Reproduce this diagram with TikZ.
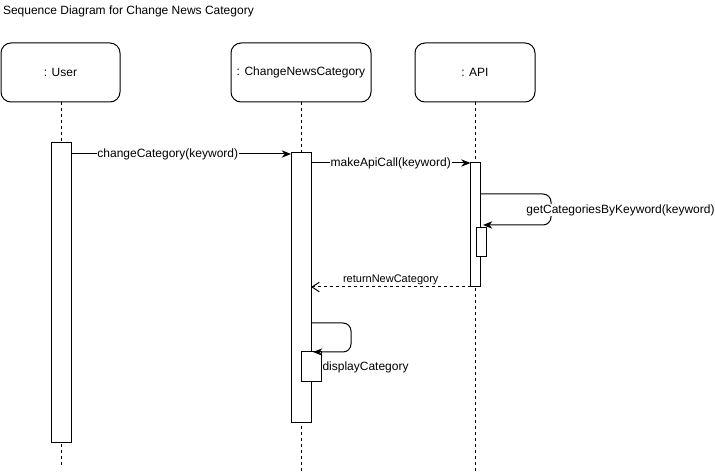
\documentclass[tikz,border=0pt]{standalone}
\usepackage{fontspec}
\setmainfont{Liberation Sans}
\usetikzlibrary{arrows.meta}
\begin{document}
\begin{tikzpicture}[x=0.75pt, y=-0.75pt, line width=0.75pt,
  every node/.style={font=\fontsize{9pt}{11pt}\selectfont, outer sep=0pt},
  dims/.style 2 args={minimum width={#1*0.75pt}, minimum height={#2*0.75pt}, inner sep=0pt},
  party/.style={draw, fill=white, rounded corners=7.5pt},
  actbar/.style={draw, fill=white},
  lifeline/.style={dash pattern=on 2.25pt off 2.25pt},
  msg/.style={-{Stealth[length=7pt, width=5.5pt]}},
  reply/.style={dash pattern=on 2.25pt off 2.25pt, -{Straight Barb[length=5.5pt, width=7pt]}},
  selfmsg/.style={msg, rounded corners=6pt},
  lbl/.style={fill=white, inner sep=0.6pt},
  small/.style={font=\fontsize{8.25pt}{10pt}\selectfont, inner sep=1.5pt}
]
\useasboundingbox (0,0) rectangle (715,474);

% title
\node[anchor=west, inner sep=0pt] (title) at (3,11) {Sequence Diagram for Change News Category};

% participants
\node[party, dims={119}{59}] (user) at (60.5,72.5) {: User};
\node[party, dims={140}{59}] (cnc)  at (301,72.5)  {: ChangeNewsCategory};
\node[party, dims={120}{59}] (api)  at (475,72.5)  {: API};

% lifelines
\coordinate (userend) at (61,465);
\coordinate (cncend)  at (301,472);
\coordinate (apiend)  at (475,472);
\draw[lifeline] (user.south -| userend) -- (userend);
\draw[lifeline] (cnc.south) -- (cncend);
\draw[lifeline] (api.south) -- (apiend);

% activation bars
\node[actbar, dims={20}{299}] (uact)  at (61,292.5)  {};
\node[actbar, dims={20}{269}] (cact)  at (301,287.5) {};
\node[actbar, dims={10}{124}] (aact)  at (475.5,225) {};
\node[actbar, dims={10}{29}]  (anest) at (481,242.5) {};
\node[actbar, dims={20}{30}]  (cnest) at (311,367)   {};

% messages
\draw[msg] (uact.east |- 0,154) -- node[lbl, pos=0.44] (m1) {changeCategory(keyword)} (cact.west |- 0,154);
\draw[msg] (cact.east |- 0,163) -- node[lbl] (m2) {makeApiCall(keyword)} (aact.west |- 0,163);

% self call on the API
\draw[selfmsg] (aact.east |- 0,194) -- (551,194) -- (551,225) -- ([xshift=1.5pt]anest.north |- 0,225);
\node[lbl] (m3) at (620.5,210) {getCategoriesByKeyword(keyword)};

% reply
\draw[reply] (aact.west |- 0,287) -- node[small, above] (m4) {returnNewCategory} (cact.east |- 0,287);

% self call on ChangeNewsCategory
\draw[selfmsg] (cact.east |- 0,323) -- (351,323) -- (351,352) -- ([xshift=1.5pt]cnest.north);
\node[anchor=west, inner sep=0pt] (m5) at (322.5,367) {displayCategory};
\end{tikzpicture}
\end{document}
